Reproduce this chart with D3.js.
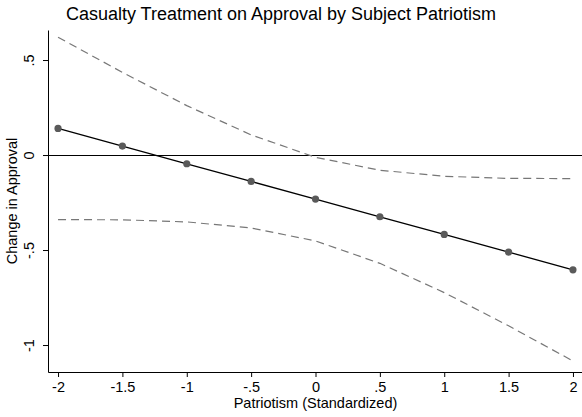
<!DOCTYPE html>
<html>
<head>
<meta charset="utf-8">
<script src="https://cdn.jsdelivr.net/npm/d3@7"></script>
<style>
  body { margin: 0; background: #fff; }
  svg { display: block; font-family: "Liberation Sans", Arial, sans-serif; }
</style>
</head>
<body>
<div id="chart"></div>
<script>
// patriotism values (standardized) and estimated effect with 95% bounds
let patriotism = [-2, -1.5, -1, -0.5, 0, 0.5, 1, 1.5, 2];
let effect = [0.14, 0.047, -0.046, -0.139, -0.232, -0.325, -0.418, -0.511, -0.604];
let upper = [0.62, 0.435, 0.26, 0.106, -0.012, -0.08, -0.112, -0.123, -0.124];
let lower = [-0.34, -0.341, -0.352, -0.384, -0.452, -0.57, -0.724, -0.899, -1.084];

let xTicks = [-2, -1.5, -1, -0.5, 0, 0.5, 1, 1.5, 2];
let xTickLabels = ["-2", "-1.5", "-1", "-.5", "0", ".5", "1", "1.5", "2"];
let yTicks = [-1, -0.5, 0, 0.5];
let yTickLabels = ["-1", "-.5", "0", ".5"];

function drawChart() {
  let width = 582,
    height = 417,
    left = 48,
    right = 583,
    top = 30,
    bottom = 372;

  let xScale = d3.scaleLinear().domain([-2.078, 2.078]).range([left, right]);
  let yScale = d3.scaleLinear().domain([-1.142, 0.658]).range([bottom, top]);

  let svg = d3
    .select("#chart")
    .append("svg")
    .attr("width", width)
    .attr("height", height);

  // title
  svg
    .append("text")
    .attr("x", 281)
    .attr("y", 20)
    .attr("text-anchor", "middle")
    .style("font-size", "18px")
    .text("Casualty Treatment on Approval by Subject Patriotism");

  // zero reference line
  let y0 = Math.round(yScale(0)) + 0.5;
  svg
    .append("line")
    .attr("x1", left)
    .attr("x2", right)
    .attr("y1", y0)
    .attr("y2", y0)
    .attr("stroke", "#000")
    .attr("stroke-width", 1);

  let line = (vals) =>
    d3
      .line()
      .x((d, i) => xScale(patriotism[i]))
      .y((d) => yScale(d))(vals);

  // confidence bounds
  [upper, lower].forEach((vals) => {
    svg
      .append("path")
      .attr("d", line(vals))
      .attr("fill", "none")
      .attr("stroke", "#777")
      .attr("stroke-width", 1.2)
      .attr("stroke-dasharray", "8,5");
  });

  // point estimate
  svg
    .append("path")
    .attr("d", line(effect))
    .attr("fill", "none")
    .attr("stroke", "#000")
    .attr("stroke-width", 1.3);

  svg
    .selectAll("circle")
    .data(effect)
    .enter()
    .append("circle")
    .attr("cx", (d, i) => xScale(patriotism[i]))
    .attr("cy", (d) => yScale(d))
    .attr("r", 3.6)
    .attr("fill", "#5a5a5a");

  // axes
  let xAxis = d3
    .axisBottom(xScale)
    .tickValues(xTicks)
    .tickFormat((d, i) => xTickLabels[i])
    .tickSize(5)
    .tickSizeOuter(0);

  let yAxis = d3
    .axisLeft(yScale)
    .tickValues(yTicks)
    .tickFormat((d, i) => yTickLabels[i])
    .tickSize(5)
    .tickSizeOuter(0);

  let gx = svg
    .append("g")
    .attr("transform", "translate(0," + bottom + ")")
    .call(xAxis);
  gx.selectAll("text")
    .attr("y", 20)
    .attr("dy", 0)
    .attr("fill", "#000")
    .style("font-size", "14.5px")
    .style("font-family", "Liberation Sans, Arial, sans-serif");

  let gy = svg
    .append("g")
    .attr("transform", "translate(" + left + ",0)")
    .call(yAxis);
  gy.selectAll("text")
    .attr("transform", "rotate(-90)")
    .attr("x", 0)
    .attr("y", -14)
    .attr("dy", 0)
    .attr("text-anchor", "middle")
    .attr("fill", "#000")
    .style("font-size", "14.5px")
    .style("font-family", "Liberation Sans, Arial, sans-serif");

  svg.selectAll(".domain, .tick line").attr("stroke", "#000");

  // axis titles
  svg
    .append("text")
    .attr("x", (left + right) / 2)
    .attr("y", 408)
    .attr("text-anchor", "middle")
    .style("font-size", "14.5px")
    .text("Patriotism (Standardized)");

  svg
    .append("text")
    .attr("transform", "translate(17," + (top + bottom) / 2 + ") rotate(-90)")
    .attr("text-anchor", "middle")
    .style("font-size", "14.5px")
    .text("Change in Approval");
}

drawChart();
</script>
</body>
</html>
